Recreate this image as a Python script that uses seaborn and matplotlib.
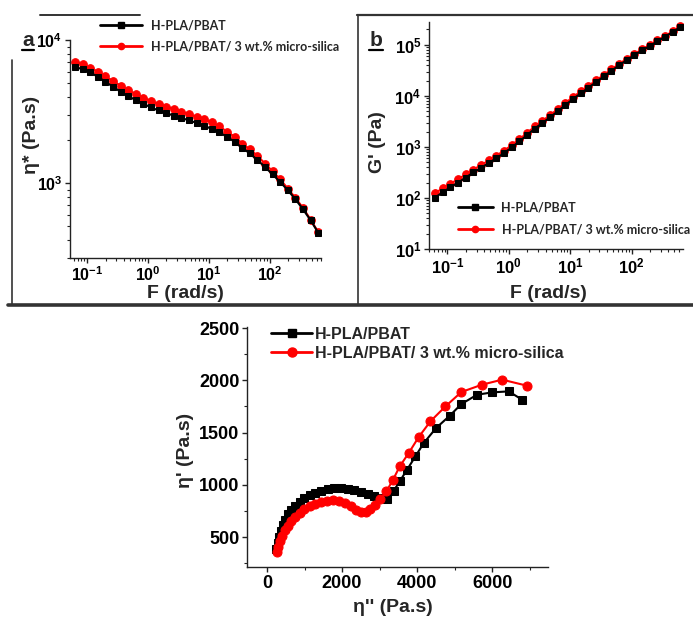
import matplotlib
matplotlib.use("Agg")
import matplotlib.pyplot as plt
import seaborn as sns
from matplotlib.lines import Line2D
from matplotlib.ticker import LogLocator, LogFormatterSciNotation, MultipleLocator, NullFormatter

# ---------------- data ----------------
# angular frequency sweep (rad/s)
freq = [0.0628, 0.0837, 0.1117, 0.149, 0.1986, 0.2648, 0.3532, 0.471, 0.628,
        0.837, 1.117, 1.49, 1.986, 2.648, 3.532, 4.71, 6.28, 8.37, 11.17, 14.9,
        19.86, 26.48, 35.32, 47.1, 62.8, 83.7, 111.7, 149, 198.6, 264.8, 353.2,
        471, 628]

# complex viscosity eta* (Pa.s)
eta_star_blend = [6500, 6240, 5940, 5540, 5110, 4720, 4350, 4060, 3800, 3590,
                  3380, 3220, 3090, 2960, 2860, 2740, 2640, 2520, 2390, 2260,
                  2110, 1945, 1765, 1615, 1450, 1300, 1150, 1020, 893, 773,
                  658, 551, 452]
eta_star_silica = [7050, 6760, 6400, 6000, 5570, 5170, 4790, 4470, 4180, 3950,
                   3740, 3565, 3420, 3295, 3150, 3030, 2905, 2790, 2660, 2490,
                   2290, 2110, 1890, 1720, 1555, 1370, 1210, 1065, 917, 790,
                   672, 557, 456]

# storage modulus G' (Pa)
g_blend = [102, 129, 162, 200, 251, 316, 389, 484, 603, 759, 977, 1290, 1700,
           2290, 2950, 3800, 5010, 6610, 8710, 11200, 14500, 18600, 24000,
           30900, 39800, 50100, 63100, 77600, 95500, 117000, 145000, 178000,
           224000]
g_silica = [124, 155, 191, 232, 289, 360, 440, 542, 675, 842, 1084, 1419, 1870,
            2519, 3245, 4180, 5511, 7271, 9494, 12208, 15660, 20088, 25680,
            33063, 42188, 53106, 66255, 81480, 99320, 121680, 149350, 183340,
            230720]

# Cole-Cole plot: eta'' (x) vs eta' (y), Pa.s
cc_blend_x = [250, 290, 330, 370, 420, 471, 551, 649, 756, 871, 996, 1138,
              1289, 1449, 1618, 1796, 1973, 2151, 2329, 2507, 2684, 2862,
              3022, 3200, 3378, 3538, 3733, 3956, 4178, 4507, 4871, 5182,
              5600, 6000, 6444, 6800]
cc_blend_y = [385, 442, 500, 557, 612, 666, 717, 761, 800, 838, 870, 899, 921,
              940, 956, 966, 966, 959, 950, 934, 911, 889, 870, 864, 943, 1033,
              1144, 1272, 1399, 1543, 1661, 1773, 1862, 1884, 1894, 1814]
cc_silica_x = [267, 293, 338, 400, 471, 551, 649, 756, 871, 996, 1138, 1289,
               1440, 1600, 1760, 1920, 2080, 2240, 2382, 2507, 2631, 2756,
               2871, 3022, 3182, 3351, 3538, 3778, 4044, 4356, 4756, 5182,
               5733, 6267, 6933]
cc_silica_y = [353, 404, 458, 513, 564, 608, 653, 694, 733, 765, 793, 819, 835,
               848, 851, 844, 825, 793, 761, 739, 739, 768, 809, 864, 937, 1042,
               1176, 1304, 1457, 1607, 1750, 1888, 1958, 2006, 1948]

labels = ["H-PLA/PBAT", "H-PLA/PBAT/ 3 wt.% micro-silica"]
RED = "#ff0000"
BLACK = "#000000"

# ---------------- style ----------------
sns.set_style("ticks")
plt.rcParams["font.family"] = ["Liberation Sans", "DejaVu Sans"]
plt.rcParams["font.weight"] = "bold"
plt.rcParams["mathtext.fontset"] = "custom"
plt.rcParams["mathtext.rm"] = "Liberation Sans:bold"
plt.rcParams["mathtext.it"] = "Liberation Sans:bold"
plt.rcParams["mathtext.bf"] = "Liberation Sans:bold"
plt.rcParams["mathtext.default"] = "rm"

W, H = 693, 626
fig = plt.figure(figsize=(W / 100, H / 100), dpi=100)


def box(left, top, right, bottom):
    return [left / W, 1 - bottom / H, (right - left) / W, (bottom - top) / H]


def fx(x):
    return x / W


def fy(y):
    return 1 - y / H


def style_axes(ax, tick_size):
    for s in ("top", "right"):
        ax.spines[s].set_visible(False)
    for s in ("left", "bottom"):
        ax.spines[s].set_linewidth(1.0)
        ax.spines[s].set_color("#222222")
    ax.tick_params(which="major", direction="out", length=3.5, width=1,
                   labelsize=tick_size, pad=2, colors="#222222")
    ax.tick_params(which="minor", direction="out", length=2, width=0.8,
                   colors="#222222")
    for lab in ax.get_xticklabels() + ax.get_yticklabels():
        lab.set_color("black")
    ax.set_xlabel("")
    ax.set_ylabel("")


def log_axis(axis):
    axis.set_major_locator(LogLocator(base=10, numticks=12))
    axis.set_minor_locator(LogLocator(base=10, subs=range(2, 10), numticks=12))
    axis.set_major_formatter(LogFormatterSciNotation())
    axis.set_minor_formatter(NullFormatter())


line_kw = dict(linewidth=1.5, sort=False, legend=False)

# ---------------- panel a: complex viscosity ----------------
ax_a = fig.add_axes(box(70, 40, 321, 258))
sns.lineplot(x=freq, y=eta_star_silica, ax=ax_a, color=RED, marker="o",
             markersize=5.5, markeredgecolor=RED, **line_kw)
sns.lineplot(x=freq, y=eta_star_blend, ax=ax_a, color=BLACK, marker="s",
             markersize=5, markeredgecolor=BLACK, **line_kw)
ax_a.set_xscale("log")
ax_a.set_yscale("log")
ax_a.set_xlim(0.052, 700)
ax_a.set_ylim(300, 10000)
log_axis(ax_a.xaxis)
log_axis(ax_a.yaxis)
style_axes(ax_a, 11.5)

# ---------------- panel b: storage modulus ----------------
ax_b = fig.add_axes(box(429, 22, 683, 249))
sns.lineplot(x=freq, y=g_silica, ax=ax_b, color=RED, marker="o",
             markersize=5.5, markeredgecolor=RED, **line_kw)
sns.lineplot(x=freq, y=g_blend, ax=ax_b, color=BLACK, marker="s",
             markersize=5, markeredgecolor=BLACK, **line_kw)
ax_b.set_xscale("log")
ax_b.set_yscale("log")
ax_b.set_xlim(0.05, 690)
ax_b.set_ylim(10, 2.8e5)
log_axis(ax_b.xaxis)
log_axis(ax_b.yaxis)
style_axes(ax_b, 12)

# ---------------- panel c: Cole-Cole plot ----------------
ax_c = fig.add_axes(box(247, 327, 548, 567))
sns.lineplot(x=cc_blend_x, y=cc_blend_y, ax=ax_c, color=BLACK, marker="s",
             markersize=6, markeredgecolor=BLACK, **line_kw)
sns.lineplot(x=cc_silica_x, y=cc_silica_y, ax=ax_c, color=RED, marker="o",
             markersize=6.5, markeredgecolor=RED, **line_kw)
ax_c.set_xlim(-533, 7490)
ax_c.set_ylim(213, 2510)
ax_c.xaxis.set_major_locator(MultipleLocator(2000))
ax_c.xaxis.set_minor_locator(MultipleLocator(1000))
ax_c.yaxis.set_major_locator(MultipleLocator(500))
ax_c.yaxis.set_minor_locator(MultipleLocator(250))
style_axes(ax_c, 13)

# ---------------- legends ----------------
h_black = Line2D([], [], color=BLACK, marker="s", markersize=4, linewidth=2)
h_red = Line2D([], [], color=RED, marker="o", markersize=4.5, linewidth=2)
h_black_c = Line2D([], [], color=BLACK, marker="s", markersize=6, linewidth=2)
h_red_c = Line2D([], [], color=RED, marker="o", markersize=6.5, linewidth=2)

leg_font = {"family": ["Lato", "DejaVu Sans"], "weight": "bold", "size": 9}
ax_a.legend([h_black, h_red], labels, loc="upper left",
            bbox_to_anchor=(fx(96), fy(16)), bbox_transform=fig.transFigure,
            frameon=False, prop=leg_font, handlelength=3.4,
            handletextpad=0.7, labelspacing=0.7, borderpad=0.3,
            borderaxespad=0)
ax_b.legend([h_black, h_red], labels, loc="upper left",
            bbox_to_anchor=(fx(454), fy(198)), bbox_transform=fig.transFigure,
            frameon=False, prop=leg_font, handlelength=2.8,
            handletextpad=0.7, labelspacing=0.75, borderpad=0.3,
            borderaxespad=0)
ax_c.legend([h_black_c, h_red_c], labels, loc="upper left",
            bbox_to_anchor=(fx(266), fy(322)), bbox_transform=fig.transFigure,
            frameon=False, prop={"weight": "bold", "size": 11.5},
            handlelength=2.6, handletextpad=0.15, labelspacing=0.25,
            borderpad=0.3, borderaxespad=0)

# ---------------- axis titles ----------------
lab_kw = dict(fontsize=14, fontweight="bold", ha="center", va="center")
fig.text(fx(31), fy(135), "η* (Pa.s)", rotation=90, **lab_kw)
fig.text(fx(185), fy(293), "F (rad/s)", **lab_kw)
fig.text(fx(378), fy(142), "G' (Pa)", rotation=90, **lab_kw)
fig.text(fx(548), fy(293), "F (rad/s)", **lab_kw)
fig.text(fx(186), fy(450), "η' (Pa.s)", rotation=90, **lab_kw)
fig.text(fx(393), fy(608), "η'' (Pa.s)", **lab_kw)

# panel letters (underlined)
fig.text(fx(28), fy(41), "a", fontsize=15, fontweight="bold",
         ha="center", va="center")
fig.add_artist(Line2D([fx(22), fx(34)], [fy(50), fy(50)], color="black",
                      linewidth=1.6))
fig.text(fx(376), fy(40), "b", fontsize=15, fontweight="bold",
         ha="center", va="center")
fig.add_artist(Line2D([fx(369), fx(383)], [fy(50), fy(50)], color="black",
                      linewidth=1.6))

# ---------------- panel frame lines ----------------
frame = "#333333"
fig.add_artist(Line2D([fx(40), fx(140)], [fy(15), fy(15)], color=frame, linewidth=1.4))
fig.add_artist(Line2D([fx(357), fx(693)], [fy(15), fy(15)], color=frame, linewidth=1.6))
fig.add_artist(Line2D([fx(12), fx(12)], [fy(60), fy(305)], color=frame, linewidth=1.2))
fig.add_artist(Line2D([fx(358), fx(358)], [fy(15), fy(305)], color=frame, linewidth=1.2))
fig.add_artist(Line2D([fx(8), fx(693)], [fy(305), fy(305)], color=frame, linewidth=2.6))

fig.savefig("out.png", dpi=100)
